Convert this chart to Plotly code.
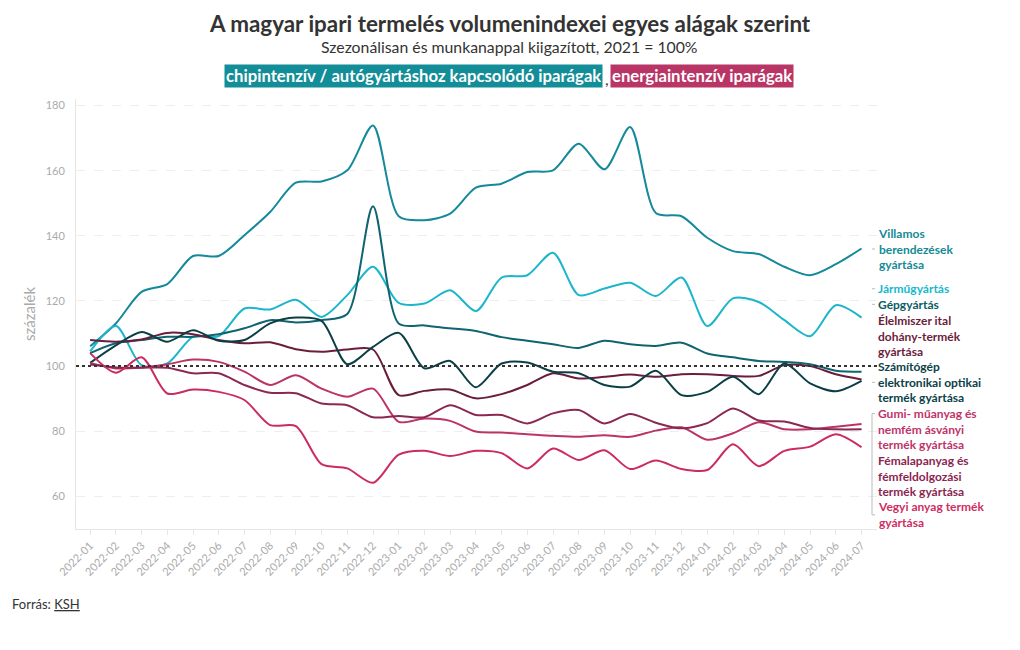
import plotly.graph_objects as go

months = ["2022-01", "2022-02", "2022-03", "2022-04", "2022-05", "2022-06", "2022-07", "2022-08",
          "2022-09", "2022-10", "2022-11", "2022-12", "2023-01", "2023-02", "2023-03", "2023-04",
          "2023-05", "2023-06", "2023-07", "2023-08", "2023-09", "2023-10", "2023-11", "2023-12",
          "2024-01", "2024-02", "2024-03", "2024-04", "2024-05", "2024-06", "2024-07"]

villamos = [106.1, 113.1, 122.8, 125.2, 133.8, 133.8, 140.2, 147.3, 156.3, 156.7, 160.1, 173.9,
            146.0, 144.8, 146.8, 154.8, 156.0, 159.6, 160.1, 168.3, 160.4, 173.4, 147.0, 146.0,
            139.4, 135.3, 134.4, 130.5, 127.9, 131.3, 136.1]
jarmu = [104.5, 112.3, 100.3, 100.8, 109.0, 109.2, 117.7, 117.4, 120.4, 115.1, 121.8, 130.5,
         119.4, 119.2, 123.3, 116.9, 127.2, 127.9, 134.8, 121.8, 123.8, 125.6, 121.5, 127.2,
         112.3, 120.8, 119.7, 114.1, 109.2, 118.7, 114.9]
gep = [104.0, 107.0, 108.0, 109.0, 109.0, 109.8, 111.6, 114.1, 113.4, 114.1, 116.0, 149.1,
       113.1, 112.5, 111.6, 110.8, 108.9, 107.8, 106.7, 105.6, 107.8, 106.7, 106.2, 107.2,
       103.9, 102.7, 101.6, 101.3, 100.6, 98.6, 98.3]
elelmiszer = [108.0, 107.5, 108.2, 110.2, 109.8, 108.0, 107.0, 107.3, 105.2, 104.4, 105.1, 105.1,
              91.1, 92.4, 92.8, 90.1, 91.4, 94.2, 97.8, 96.2, 96.7, 97.4, 96.7, 97.5,
              97.5, 97.0, 97.0, 100.3, 100.0, 97.5, 95.9]
szamitogep = [101.0, 106.4, 110.5, 107.5, 111.0, 107.8, 108.0, 113.1, 114.9, 113.9, 100.6, 105.9,
              110.2, 99.3, 101.6, 93.5, 100.8, 101.1, 98.3, 97.8, 94.2, 93.7, 98.6, 91.1,
              92.1, 96.7, 91.4, 100.8, 94.7, 92.3, 95.5]
gumi = [101.0, 99.3, 99.6, 100.6, 102.0, 101.3, 98.3, 94.2, 97.2, 93.1, 90.6, 93.1,
        82.9, 83.9, 83.2, 79.9, 79.6, 79.1, 78.6, 78.3, 78.8, 78.3, 80.2, 81.2,
        77.4, 79.4, 82.8, 80.6, 80.6, 81.4, 82.2]
femalap = [100.5, 99.6, 99.5, 99.5, 97.8, 97.8, 94.2, 91.8, 91.7, 88.5, 88.0, 84.3,
           84.7, 84.3, 88.0, 85.0, 85.0, 82.4, 85.5, 86.5, 82.4, 85.3, 82.6, 80.9,
           82.5, 87.0, 83.3, 83.0, 81.0, 80.6, 80.6]
vegyi = [104.0, 98.0, 102.7, 91.6, 92.8, 92.1, 89.6, 81.9, 81.6, 69.9, 68.6, 64.2,
         72.8, 74.0, 72.4, 74.0, 73.3, 68.6, 74.7, 71.2, 74.2, 68.4, 71.0, 68.4,
         68.1, 76.0, 69.3, 74.0, 75.3, 79.1, 75.1]

series_names = ["Villamos berendezések gyártása", "Járműgyártás", "Gépgyártás",
                "Élelmiszer ital dohány-termék gyártása",
                "Számítógép elektronikai optikai termék gyártása",
                "Gumi- műanyag és nemfém ásványi termék gyártása",
                "Fémalapanyag és fémfeldolgozási termék gyártása",
                "Vegyi anyag termék gyártása"]
series_values = [villamos, jarmu, gep, elelmiszer, szamitogep, gumi, femalap, vegyi]
label_lines = [["Villamos", "berendezések", "gyártása"],
               ["Járműgyártás"],
               ["Gépgyártás"],
               ["Élelmiszer ital", "dohány-termék", "gyártása"],
               ["Számítógép", "elektronikai optikai", "termék gyártása"],
               ["Gumi- műanyag és", "nemfém ásványi", "termék gyártása"],
               ["Fémalapanyag és", "fémfeldolgozási", "termék gyártása"],
               ["Vegyi anyag termék", "gyártása"]]

# styles (kept apart from data)
line_colors = ["#14899a", "#1bb6cb", "#0e6470", "#6a1d3c", "#0b3f46", "#bb3467", "#8a2852", "#cc2b5f"]
label_colors = ["#138a96", "#17b8cc", "#0b5c64", "#6b1d3c", "#0a4248", "#be3469", "#8b2550", "#cf2d62"]

FONT = "Lato"
LABEL_SIZE = 12
STEP = LABEL_SIZE * 1.3
OFF = 8                      # default page margin of the html body
PAGE_W, PAGE_H = 1020, 650
W, H = PAGE_W - 2 * OFF, PAGE_H - 2 * OFF
# plot area in page pixels
P_LEFT, P_RIGHT, P_TOP, P_BOTTOM = 76, 877, 99, 529
L, R, T, B = P_LEFT - OFF, (PAGE_W - OFF) - P_RIGHT, P_TOP - OFF, (PAGE_H - OFF) - P_BOTTOM
PW, PH = P_RIGHT - P_LEFT, P_BOTTOM - P_TOP


def px_x(px):
    return (px - P_LEFT) / PW


def px_y(py):
    return (P_BOTTOM - py) / PH


# label block positions (page pixel centre of first line)
lower_start = 405.75 - 7.5 * STEP
label_first_px = [249 - STEP]
n = 0
for lines in label_lines[1:]:
    label_first_px.append(lower_start + n * STEP)
    n += len(lines)

fig = go.Figure()
for name, vals, col in zip(series_names, series_values, line_colors):
    fig.add_trace(go.Scatter(x=months, y=vals, mode="lines", name=name,
                             line=dict(color=col, width=2, shape="spline", smoothing=0.8),
                             hovertemplate="%{x}: %{y:.1f}<extra>" + name + "</extra>"))

fig.add_hline(y=100, line=dict(color="#333333", width=2, dash="dot"))

annotations = []
annotations.append(dict(text="<b>A magyar ipari termelés volumenindexei egyes alágak szerint</b>",
                        xref="paper", yref="paper", x=px_x(510), y=px_y(24), xanchor="center",
                        yanchor="middle", showarrow=False, font=dict(family=FONT, size=22.4, color="#333333")))
annotations.append(dict(text="Szezonálisan és munkanappal kiigazított, 2021 = 100%",
                        xref="paper", yref="paper", x=px_x(509), y=px_y(47), xanchor="center",
                        yanchor="middle", showarrow=False, font=dict(family=FONT, size=15.8, color="#333333")))
annotations.append(dict(text="<b>chipintenzív / autógyártáshoz kapcsolódó iparágak</b>",
                        xref="paper", yref="paper", x=px_x(603), y=px_y(76), xanchor="right",
                        yanchor="middle", showarrow=False, bgcolor="#138d97", borderpad=1,
                        font=dict(family=FONT, size=16.7, color="white")))
annotations.append(dict(text=",", xref="paper", yref="paper", x=px_x(606.5), y=px_y(78),
                        xanchor="center", yanchor="middle", showarrow=False,
                        font=dict(family=FONT, size=16, color="#333333")))
annotations.append(dict(text="<b>energiaintenzív iparágak</b>",
                        xref="paper", yref="paper", x=px_x(610), y=px_y(76), xanchor="left",
                        yanchor="middle", showarrow=False, bgcolor="#b83566", borderpad=1,
                        font=dict(family=FONT, size=16.7, color="white")))
annotations.append(dict(text="Forrás: <a href=\"https://www.ksh.hu\" style=\"color:#333333\"><u>KSH</u></a>",
                        xref="paper", yref="paper", x=px_x(10), y=px_y(604), xanchor="left",
                        yanchor="middle", showarrow=False, font=dict(family=FONT, size=13, color="#333333")))
for lines, col, y0 in zip(label_lines, label_colors, label_first_px):
    ycen = y0 + (len(lines) - 1) * STEP / 2
    annotations.append(dict(text="<b>" + "<br>".join(lines) + "</b>", xref="paper", yref="paper",
                            x=px_x(876), y=px_y(ycen), xanchor="left", yanchor="middle",
                            align="left", showarrow=False,
                            font=dict(family=FONT, size=LABEL_SIZE, color=col)))

shapes = []
bx = px_x(872)
g1_top = label_first_px[1]
g1_bot = label_first_px[4] + STEP
g2_top = label_first_px[5]
g2_bot = label_first_px[7] + STEP / 2
for ytop, ybot in [(g1_top, g1_bot), (g2_top, g2_bot)]:
    shapes.append(dict(type="line", xref="paper", yref="paper", x0=bx, x1=bx,
                       y0=px_y(ytop), y1=px_y(ybot), line=dict(color="#bbbbbb", width=1)))
    for yy in (ytop, ybot):
        shapes.append(dict(type="line", xref="paper", yref="paper", x0=bx, x1=px_x(875),
                           y0=px_y(yy), y1=px_y(yy), line=dict(color="#bbbbbb", width=1)))
for yy in (249, label_first_px[2]):
    shapes.append(dict(type="line", xref="paper", yref="paper", x0=bx, x1=px_x(875),
                       y0=px_y(yy), y1=px_y(yy), line=dict(color="#bbbbbb", width=1)))

fig.update_layout(
    width=W, height=H,
    margin=dict(l=L, r=R, t=T, b=B, autoexpand=False),
    paper_bgcolor="white", plot_bgcolor="white",
    showlegend=False,
    font=dict(family=FONT, color="#333333"),
    annotations=annotations,
    shapes=shapes,
    xaxis=dict(type="category", range=[-0.55, 30.6], tickangle=-45, automargin=False,
               tickfont=dict(family=FONT, size=11, color="#aaaaaa"),
               showgrid=False, showline=True, linecolor="#e6e6e6", linewidth=1,
               ticks="outside", ticklen=5, tickcolor="#e6e6e6", zeroline=False),
    yaxis=dict(range=[50, 182], tickvals=[60, 80, 100, 120, 140, 160, 180], automargin=False,
               tickfont=dict(family=FONT, size=11, color="#aaaaaa"),
               showgrid=True, gridcolor="#eeeeee", griddash="dash", gridwidth=1,
               showline=True, linecolor="#e6e6e6", linewidth=1, zeroline=False,
               ticks="", ticklabelstandoff=8,
               title=dict(text="százalék", font=dict(family=FONT, size=15, color="#aaaaaa"),
                          standoff=6)),
)

fig.write_html("out.html")
